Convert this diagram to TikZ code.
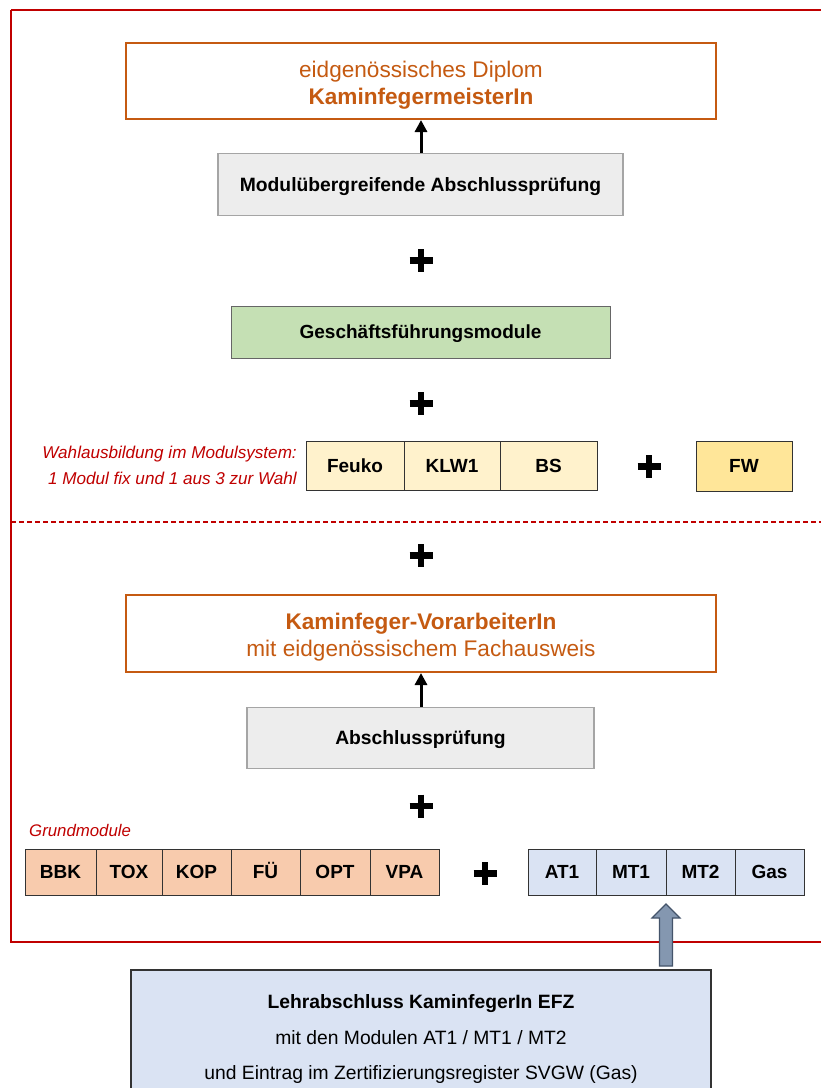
\documentclass[tikz,border=0pt]{standalone}
\usepackage{fontspec}
\setmainfont{Liberation Sans}
\usetikzlibrary{arrows.meta}
\definecolor{kred}{HTML}{C00000}
\definecolor{korange}{HTML}{C55A11}
\definecolor{kgreyfill}{HTML}{EDEDED}
\definecolor{kgreyline}{HTML}{A5A5A5}
\definecolor{kgreen}{HTML}{C5E0B4}
\definecolor{kyellow}{HTML}{FFF2CC}
\definecolor{kgold}{HTML}{FFE699}
\definecolor{kpeach}{HTML}{F8CBAD}
\definecolor{kblue}{HTML}{DAE3F3}
\definecolor{karrow}{HTML}{8497B0}
\definecolor{karrowline}{HTML}{44546A}
\begin{document}
\begin{tikzpicture}[x=1pt,y=-1pt,
  titlebox/.style={draw=korange, line width=2pt, fill=white, inner sep=0pt, minimum width=590pt, minimum height=76pt},
  titletext/.style={align=center, text=korange, inner sep=0pt, font=\fontsize{22.6}{26.5}\selectfont},
  exambox/.style={draw=kgreyline, line width=1.8pt, fill=kgreyfill, inner sep=0pt, text height=13.8pt, text depth=0pt, font=\bfseries\fontsize{19.3}{22}\selectfont},
  modbox/.style={draw=black!80, line width=1pt, inner sep=0pt, text height=13.6pt, text depth=0pt, font=\bfseries\fontsize{19}{22}\selectfont},
  efztext/.style={inner sep=0pt, text height=13.8pt, text depth=0pt, font=\fontsize{19.3}{22}\selectfont},
  note/.style={text=kred, inner sep=0pt},
  plussign/.style={line width=6.8pt},
  uparrow/.style={line width=3pt, -{Triangle[length=12pt,width=12pt]}},
]
\useasboundingbox (0,0) rectangle (821,1088);
\clip (0,0) rectangle (821,1088);
\fill[white] (0,0) rectangle (821,1088);

% red frame and dashed divider
\draw[kred, line width=2pt] (11,10) -- (835,10) (11,10) -- (11,942) -- (835,942);
\coordinate (dl) at (11,522);
\coordinate (dr) at (821,522);
\draw[kred, line width=1.5pt, dash pattern=on 5pt off 3pt] (dl) -- (dr);

% top part
\node[titlebox] (diplom) at (421,81) {};
\node[titletext] (diplomtext) at (421,85) {eidgenössisches Diplom\\\textbf{KaminfegermeisterIn}};
\node[exambox, minimum width=405pt, minimum height=62pt] (mapr) at (420.5,184.5) {Modulübergreifende Abschlussprüfung};
\draw[uparrow] (mapr.north -| diplom.south) -- (diplom.south);

\draw[plussign] (409.5,260.5) -- (432.5,260.5) (421,249) -- (421,272);

\node[modbox, draw=black!60, fill=kgreen, minimum width=379pt, minimum height=52pt] (gf) at (420.5,332) {Geschäftsführungsmodule};

\draw[plussign] (409.5,403.5) -- (432.5,403.5) (421,392) -- (421,415);

\node[note, anchor=east, align=right, font=\itshape\fontsize{17.1}{26}\selectfont] (wahl) at (297,465) {Wahlausbildung im Modulsystem:\\1 Modul fix und 1 aus 3 zur Wahl};
\node[modbox, fill=kyellow, minimum width=98pt, minimum height=49pt] (feuko) at (355,465.5) {Feuko};
\node[modbox, fill=kyellow, minimum width=96pt, minimum height=49pt] (klw) at (452,465.5) {KLW1};
\node[modbox, fill=kyellow, minimum width=97pt, minimum height=49pt] (bs) at (548.5,465.5) {BS};
\draw[plussign] (637.5,466.5) -- (660.5,466.5) (649,455) -- (649,478);
\node[modbox, fill=kgold, minimum width=96pt, minimum height=50pt] (fw) at (744,466) {FW};

\draw[plussign] (409.5,555.5) -- (432.5,555.5) (421,544) -- (421,567);

% lower part
\node[titlebox, minimum height=77pt] (vorarb) at (421,633.5) {};
\node[titletext] (vorarbtext) at (421,637) {\textbf{Kaminfeger-VorarbeiterIn}\\mit eidgenössischem Fachausweis};
\node[exambox, minimum width=347pt, minimum height=61pt] (apr) at (420.5,738) {Abschlussprüfung};
\draw[uparrow] (apr.north -| vorarb.south) -- (vorarb.south);

\draw[plussign] (409.5,806) -- (432.5,806) (421,794.5) -- (421,817.5);

\node[note, anchor=west, font=\itshape\fontsize{16.8}{20}\selectfont] (grund) at (29,830) {Grundmodule};
\node[modbox, fill=kpeach, minimum width=71pt, minimum height=46pt] (bbk) at (60.5,872) {BBK};
\node[modbox, fill=kpeach, minimum width=66pt, minimum height=46pt] (tox) at (129,872) {TOX};
\node[modbox, fill=kpeach, minimum width=69pt, minimum height=46pt] (kop) at (196.5,872) {KOP};
\node[modbox, fill=kpeach, minimum width=69pt, minimum height=46pt] (fue) at (265.5,872) {FÜ};
\node[modbox, fill=kpeach, minimum width=70pt, minimum height=46pt] (opt) at (335,872) {OPT};
\node[modbox, fill=kpeach, minimum width=69pt, minimum height=46pt] (vpa) at (404.5,872) {VPA};

\draw[plussign] (473.5,873.5) -- (496.5,873.5) (485,862) -- (485,885);

\node[modbox, fill=kblue, minimum width=68pt, minimum height=46pt] (at1) at (562,872) {AT1};
\node[modbox, fill=kblue, minimum width=70pt, minimum height=46pt] (mt1) at (631,872) {MT1};
\node[modbox, fill=kblue, minimum width=69pt, minimum height=46pt] (mt2) at (700.5,872) {MT2};
\node[modbox, fill=kblue, minimum width=69pt, minimum height=46pt] (gas) at (769.5,872) {Gas};

% bottom box
\node[draw=black!80, line width=1.2pt, fill=kblue, minimum width=580pt, minimum height=150pt, inner sep=0pt] (efz) at (421,1045) {};
\node[efztext, font=\bfseries\fontsize{19.3}{22}\selectfont] (efz1) at (421,1002) {Lehrabschluss KaminfegerIn EFZ};
\node[efztext] (efz2) at (421,1037.5) {mit den Modulen AT1 / MT1 / MT2};
\node[efztext] (efz3) at (421,1073) {und Eintrag im Zertifizierungsregister SVGW (Gas)};

% big arrow from EFZ to module block
\coordinate (atip) at (666,904);
\draw[karrowline, fill=karrow, line width=1.2pt, line join=miter]
  (659.5,966) -- (659.5,918) -- (652,918) -- (atip) -- (680,918) -- (672.5,918) -- (672.5,966) -- cycle;
\end{tikzpicture}
\end{document}
